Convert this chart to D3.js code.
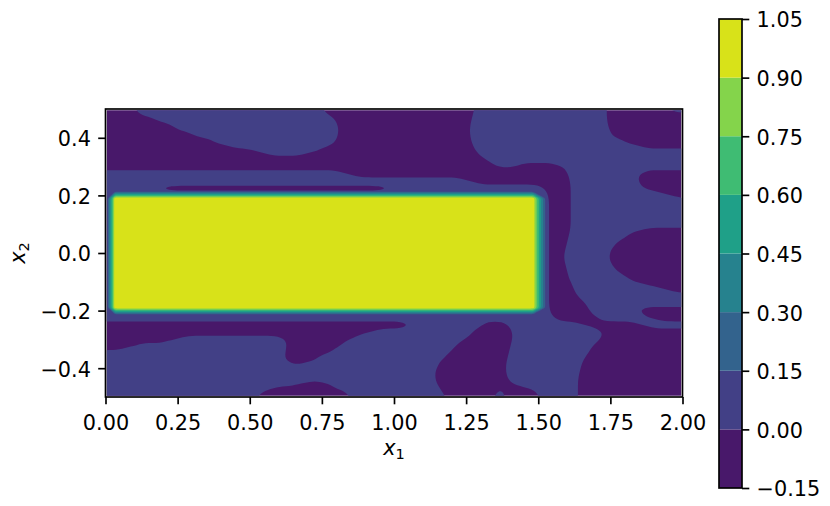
<!DOCTYPE html>
<html>
<head>
<meta charset="utf-8">
<script src="https://cdn.jsdelivr.net/npm/d3@7"></script>
<style>
body { margin: 0; background: #fff; }
text { font-family: "DejaVu Sans", sans-serif; fill: #000; }
</style>
</head>
<body>
<svg id="chart" width="830" height="506"></svg>
<script>
// contour levels (also the colorbar ticks)
const levels = [-0.15, 0, 0.15, 0.3, 0.45, 0.6, 0.75, 0.9, 1.05];
const xTicks = [0, 0.25, 0.5, 0.75, 1, 1.25, 1.5, 1.75, 2];
const yTicks = [-0.4, -0.2, 0, 0.2, 0.4];

// background field, 81 x 41 nodes every 0.025, first row is x2 = 0.5
// run length per row: "n." below 0, "n:" just below 0, "n-" between 0 and 0.15
const bgRuns = [
  '4. 26- 22. 9- 3: 6- 8. 3-',
  '6. 26- 19. 19- 11.',
  '9. 24- 18. 19- 11.',
  '11. 22- 18. 19- 11.',
  '14. 19- 18. 20- 10.',
  '17. 15- 19. 23- 7.',
  '22. 7- 23. 29-',
  '53. 28-',
  '55. 2- 7. 17-',
  '34- 31. 9- 7.',
  '51- 14. 9- 7.',
  '8- 32: 22- 3. 10- 6.',
  '62- 3. 14- 2.',
  '62- 3. 16-',
  '62- 3. 16-',
  '62- 3. 16-',
  '62- 3. 16-',
  '62- 3. 9- 7.',
  '62- 3. 7- 9.',
  '62- 2. 7- 10.',
  '62- 2. 6- 11.',
  '62- 2. 6- 11.',
  '62- 2. 7- 10.',
  '62- 3. 7- 9.',
  '62- 3. 9- 7.',
  '62- 3. 13- 3.',
  '62- 4. 15-',
  '62- 5. 14-',
  '62- 6. 6- 7.',
  '62- 6. 8- 5.',
  '43. 9- 5. 10- 8. 6-',
  '37. 15- 5. 13- 11.',
  '10. 16- 8. 16- 7. 12- 12.',
  '4. 22- 7. 16- 8. 11- 13.',
  '25- 6. 17- 8. 11- 14.',
  '25- 4. 18- 9. 11- 14.',
  '46- 10. 10- 15.',
  '46- 10. 10- 15.',
  '28- 3: 15- 10. 10- 15.',
  '23- 10. 14- 8. 1- 4. 6- 15.',
  '21- 14. 13- 6. 2- 5. 5- 15.'
];
const bgCode = {'.': -1, ':': -0.5, '-': 1};

// the block, on an uneven grid
const blockX = [0.006, 0.033, 1.482, 1.528];
const blockY = [0.215, 0.19, -0.19, -0.215];
const blockZ = [
  [0.07, 0.07, 0.07, 0.07],
  [0.07, 1.0, 1.0, 0.07],
  [0.07, 1.0, 1.0, 0.07],
  [0.07, 0.07, 0.07, 0.07]
];

const fontSize = 20.8;
const tickLen = 7.3;
const lw = 1.67;
const m = {l: 105.5, r: 682.5, t: 109, b: 397};
const cb = {l: 719, r: 742, t: 19, b: 488};

const svg = d3.select('#chart');
const color = i => d3.interpolateViridis((i + 0.5) / (levels.length - 1));

const x = d3.scaleLinear().domain([0, 2]).range([m.l, m.r]);
const y = d3.scaleLinear().domain([-0.5, 0.5]).range([m.b, m.t]);

// split long ring edges so the spline only rounds the corners
function densify(pts, step) {
  const out = [];
  pts.forEach((p, i) => {
    const q = pts[(i + 1) % pts.length];
    const n = Math.max(1, Math.ceil(Math.hypot(q[0] - p[0], q[1] - p[1]) / step));
    for (let s = 0; s < n; s++) out.push([p[0] + (q[0] - p[0]) * s / n, p[1] + (q[1] - p[1]) * s / n]);
  });
  return out;
}

// running mean along a closed ring, takes the grid steps out
function relax(pts, r) {
  const n = pts.length;
  if (n < 2 * r + 3) return pts;
  return pts.map((p, i) => {
    let sx = 0, sy = 0;
    for (let k = -r; k <= r; k++) {
      const q = pts[(i + k + n) % n];
      sx += q[0]; sy += q[1];
    }
    return [sx / (2 * r + 1), sy / (2 * r + 1)];
  });
}

// contour rings -> smooth closed curves in pixels
const ringLine = d3.line().curve(d3.curveBasisClosed);
function contourPath(mapX, mapY, step, r) {
  return mp => mp.coordinates.map(poly => poly.map(ring => {
    let pts = ring.slice(0, -1).map(([px, py]) => [x(mapX(px)), y(mapY(py))]);
    if (step) pts = densify(pts, step);
    if (r) pts = relax(pts, r);
    return ringLine(pts);
  }).join('')).join('');
}

svg.append('defs').append('clipPath').attr('id', 'plot')
  .append('rect')
  .attr('x', m.l + 1.3).attr('y', m.t + 1.3)
  .attr('width', m.r - m.l - 2.6).attr('height', m.b - m.t - 2.6);

const field = svg.append('g').attr('clip-path', 'url(#plot)');

field.append('rect')
  .attr('x', m.l).attr('y', m.t)
  .attr('width', m.r - m.l).attr('height', m.b - m.t)
  .attr('fill', color(0));

// decode the background rows
const nx = 81, ny = bgRuns.length;
const grid = bgRuns.map((row, k) => {
  const vals = [];
  row.split(' ').forEach(tok => {
    const c = tok.slice(-1), count = +tok.slice(0, -1);
    for (let i = 0; i < count; i++) vals.push(bgCode[c]);
  });
  if (vals.length !== nx) console.warn('row', k, 'has', vals.length);
  return vals;
});

// repeat the edge nodes a little past the frame so rings close outside it
const pad = 4;
const padded = [];
for (let k = -pad; k < ny + pad; k++) {
  const row = grid[Math.max(0, Math.min(ny - 1, k))];
  for (let j = -pad; j < nx + pad; j++) padded.push(row[Math.max(0, Math.min(nx - 1, j))]);
}

const gx = d3.scaleLinear().domain([0.5 + pad, nx - 0.5 + pad]).range([0, 2]);
const gy = d3.scaleLinear().domain([0.5 + pad, ny - 0.5 + pad]).range([0.5, -0.5]);

const bg = d3.contours().size([nx + 2 * pad, ny + 2 * pad]).thresholds([0])(padded);
field.selectAll('path.bg').data(bg).join('path')
  .attr('class', 'bg')
  .attr('d', contourPath(gx, gy, 0, 2))
  .attr('fill', color(1));

// block on top
const bx = d3.scaleLinear().domain(blockX.map((d, i) => i + 0.5)).range(blockX);
const by = d3.scaleLinear().domain(blockY.map((d, i) => i + 0.5)).range(blockY);

const block = d3.contours()
  .size([blockX.length, blockY.length])
  .thresholds(levels.slice(2, -1))(blockZ.flat());
field.selectAll('path.block').data(block).join('path')
  .attr('class', 'block')
  .attr('d', contourPath(bx, by, 2.5, 0))
  .attr('fill', d => color(levels.indexOf(d.value)));

// axes
const xAxis = svg.append('g')
  .attr('transform', `translate(0,${m.b})`)
  .call(d3.axisBottom(x).tickValues(xTicks).tickSize(tickLen).tickPadding(10.9)
    .tickFormat(d3.format('.2f')));
const yAxis = svg.append('g')
  .attr('transform', `translate(${m.l},0)`)
  .call(d3.axisLeft(y).tickValues(yTicks).tickSize(tickLen).tickPadding(tickLen)
    .tickFormat(d3.format('.1f')));
yAxis.selectAll('text').attr('dy', '0.38em');

[xAxis, yAxis].forEach(a => {
  a.select('.domain').remove();
  a.selectAll('line').attr('stroke-width', lw);
  a.selectAll('text').attr('font-size', fontSize).attr('font-family', null);
});

svg.append('rect')
  .attr('x', m.l).attr('y', m.t)
  .attr('width', m.r - m.l).attr('height', m.b - m.t)
  .attr('fill', 'none').attr('stroke', '#000').attr('stroke-width', lw);

// axis labels
const xl = svg.append('text')
  .attr('x', (m.l + m.r) / 2).attr('y', 455)
  .attr('text-anchor', 'middle').attr('font-size', fontSize);
xl.append('tspan').attr('font-style', 'italic').text('x');
xl.append('tspan').attr('font-size', fontSize * 0.7).attr('dy', 4.4).text('1');

const yl = svg.append('text')
  .attr('transform', `translate(25,${(m.t + m.b) / 2}) rotate(-90)`)
  .attr('text-anchor', 'middle').attr('font-size', fontSize);
yl.append('tspan').attr('font-style', 'italic').text('x');
yl.append('tspan').attr('font-size', fontSize * 0.7).attr('dy', 4.4).text('2');

// colorbar
const cy = d3.scaleLinear().domain([levels[0], levels[levels.length - 1]]).range([cb.b, cb.t]);
svg.append('g').selectAll('rect')
  .data(d3.range(levels.length - 1))
  .join('rect')
  .attr('x', cb.l)
  .attr('y', i => cy(levels[i + 1]))
  .attr('width', cb.r - cb.l)
  .attr('height', i => cy(levels[i]) - cy(levels[i + 1]))
  .attr('fill', i => color(i));

const cAxis = svg.append('g')
  .attr('transform', `translate(${cb.r},0)`)
  .call(d3.axisRight(cy).tickValues(levels).tickSize(tickLen).tickPadding(tickLen)
    .tickFormat(d3.format('.2f')));
cAxis.select('.domain').remove();
cAxis.selectAll('line').attr('stroke-width', lw);
cAxis.selectAll('text').attr('font-size', fontSize).attr('font-family', null).attr('dy', '0.38em');

svg.append('rect')
  .attr('x', cb.l).attr('y', cb.t)
  .attr('width', cb.r - cb.l).attr('height', cb.b - cb.t)
  .attr('fill', 'none').attr('stroke', '#000').attr('stroke-width', lw);
</script>
</body>
</html>
